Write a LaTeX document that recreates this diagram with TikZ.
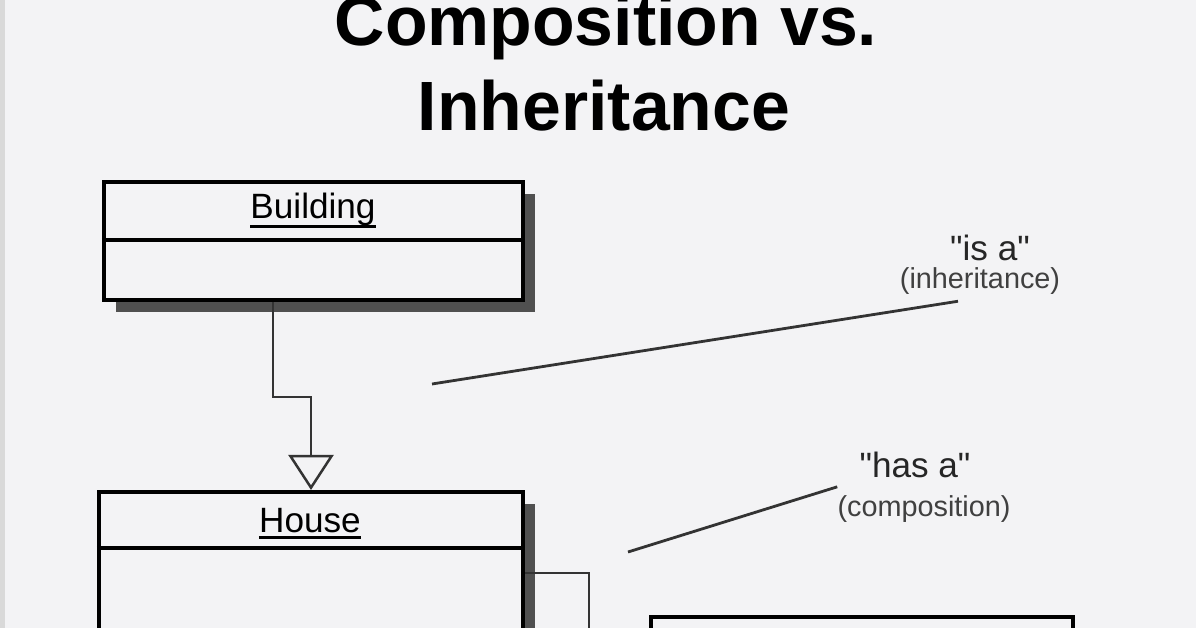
\documentclass[tikz,border=0pt]{standalone}
\usepackage{fontspec}
\setmainfont{Liberation Sans}
\newfontfamily\notefont{Liberation Sans}
\usetikzlibrary{arrows.meta,shadows}
\definecolor{bg}{HTML}{F3F3F5}
\definecolor{shade}{HTML}{505050}
\definecolor{ink}{HTML}{333333}
\def\UL#1#2{\draw [line width=0.075cm] ([yshift=-#2]#1.base west) -- ([yshift=-#2]#1.base east);}
\def\SEP#1#2{\draw [line width=0.1cm] (#1.west |- 0,#2) -- (#1.east |- 0,#2);}

\begin{document}
\begin{tikzpicture}[x=0.025cm,y=-0.025cm,
  cls/.style={draw,line width=0.1cm,fill=bg,general shadow={fill=shade,shadow xshift=0.3cm,shadow yshift=-0.3cm}},
  conn/.style={draw=ink,line width=0.0625cm},
  note/.style={draw=ink,line width=0.07cm},
  txt/.style={inner sep=0pt,anchor=base}]
\useasboundingbox (0,0) rectangle (1196,628);
\clip (0,0) rectangle (1196,628);
\fill[bg] (0,0) rectangle (1196,628);
\fill[black!15] (0,0) rectangle (5,628);
\node[txt,font=\fontsize{49.6}{60}\selectfont\bfseries] (title1) at (606,46) {Composition vs.};
\node[txt,font=\fontsize{49.6}{60}\selectfont\bfseries] (title2) at (604,131) {Inheritance};
\node[cls,minimum width=10.475cm,minimum height=2.95cm] (building) at (313.5,241) {};
\node[cls,minimum width=10.6cm,minimum height=6.7cm] (house) at (311,626) {};
\node[cls,minimum width=10.55cm,minimum height=4.575cm] (part) at (862,708.5) {};
\node[txt,font=\fontsize{25}{29}\selectfont] (bname) at (313,219) {Building};
\node[txt,font=\fontsize{25}{29}\selectfont] (hname) at (310,532) {House};
\UL{bname}{0.2cm} \UL{hname}{0.125cm}
\SEP{building}{240} \SEP{house}{548}
\draw[conn,-{Triangle[width=1.125cm,length=0.875cm,fill=bg]}] (building.south -| 273,0) -- (273,397) -| (house.north);
\coordinate (down) at (589,660);
\draw[conn] (house.east |- 0,573) -| (down);
\node[txt,font=\notefont\fontsize{25}{30}\selectfont,text=black!85] (isa) at (990,261) {"is a"};
\node[txt,font=\notefont\fontsize{20.5}{24}\selectfont,text=black!75] (inhlabel) at (980,289) {(inheritance)};
\node[txt,font=\notefont\fontsize{25}{30}\selectfont,text=black!85] (hasa) at (915,478) {"has a"};
\node[txt,font=\notefont\fontsize{20.5}{24}\selectfont,text=black!75] (complabel) at (924,516) {(composition)};
\coordinate (isafoot) at (432,384);
\coordinate (hasafoot) at (628,552);
\draw[note] (isafoot) -- ([xshift=-0.55cm,yshift=-0.15cm]inhlabel.south);
\draw[note] (hasafoot) -- ([yshift=0.2cm]complabel.north west);
\end{tikzpicture}
\end{document}
